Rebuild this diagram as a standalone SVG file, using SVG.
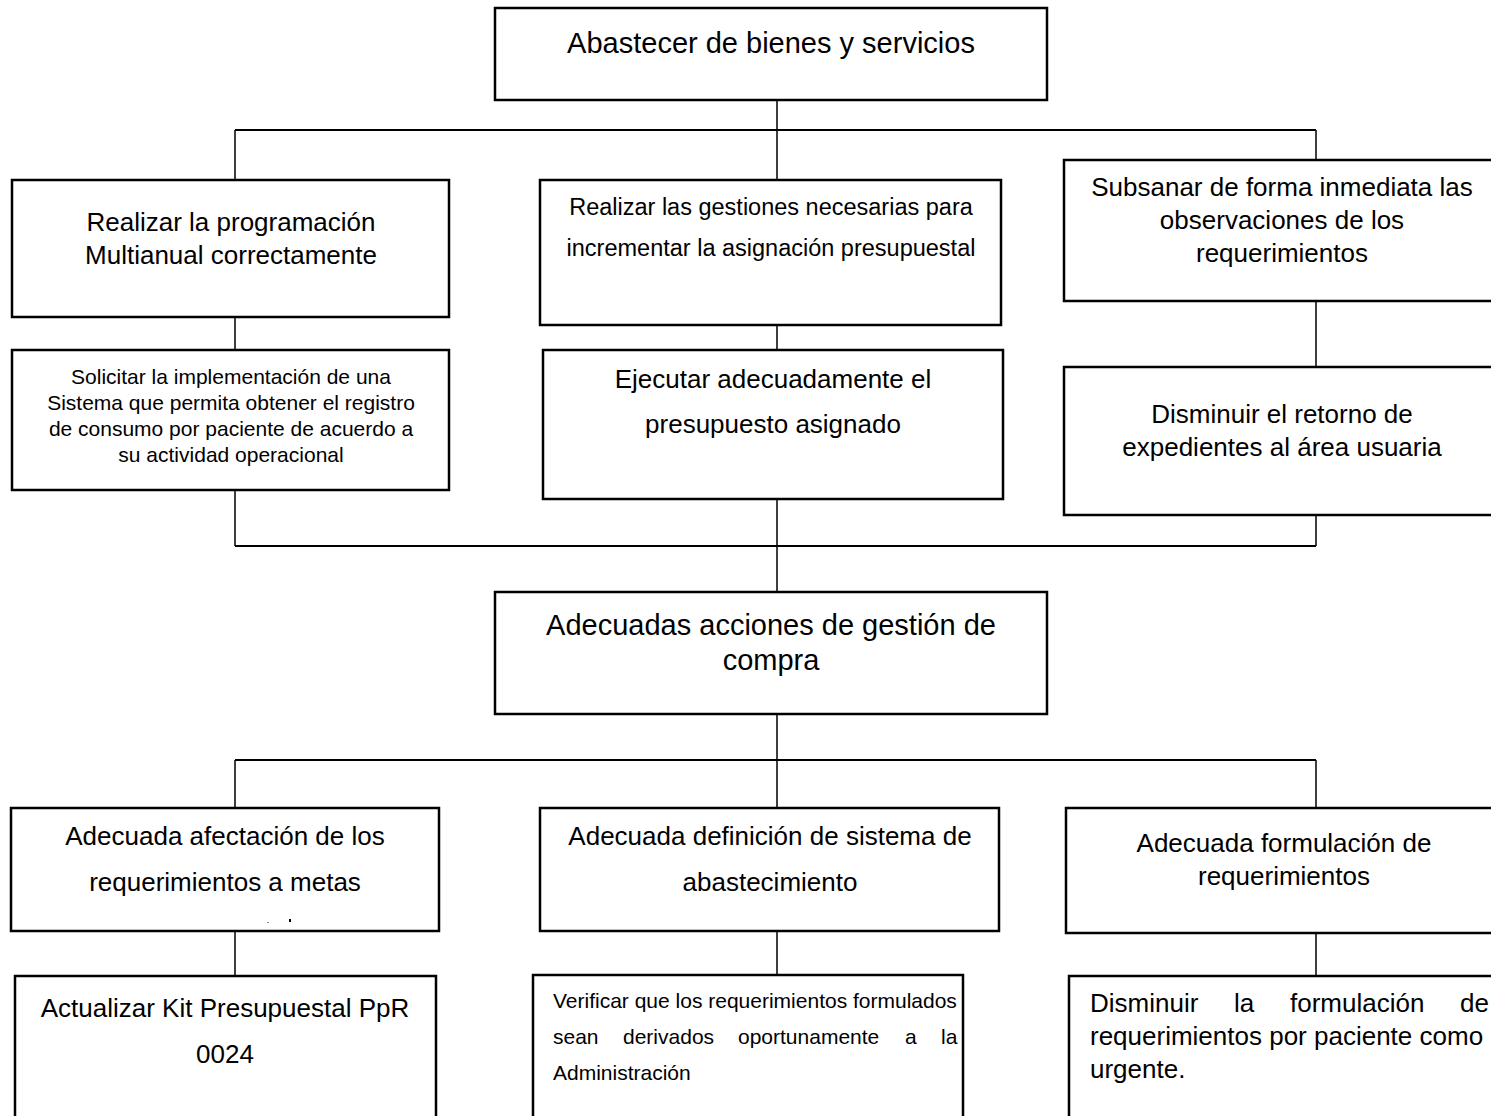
<svg xmlns="http://www.w3.org/2000/svg" width="1491" height="1116" viewBox="0 0 1491 1116">
<style>
.box{fill:#fff;stroke:#000;stroke-width:2.5}
.t{font-family:"Liberation Sans",Arial,sans-serif;fill:#000;text-anchor:middle}
.s{text-anchor:start}
.c{stroke:#000;fill:none}
.v{stroke-width:1.5}
.h{stroke-width:2.2}
</style>
<rect width="1491" height="1116" fill="#fff"/>
<g id="connectors">
<line class="c v" x1="777" y1="100" x2="777" y2="130"/>
<line class="c h" x1="235" y1="130" x2="1316" y2="130"/>
<line class="c v" x1="235" y1="130" x2="235" y2="180"/>
<line class="c v" x1="777" y1="130" x2="777" y2="180"/>
<line class="c v" x1="1316" y1="130" x2="1316" y2="160"/>
<line class="c v" x1="235" y1="317" x2="235" y2="350"/>
<line class="c v" x1="777" y1="325" x2="777" y2="350"/>
<line class="c v" x1="1316" y1="301" x2="1316" y2="367"/>
<line class="c v" x1="235" y1="490" x2="235" y2="546"/>
<line class="c v" x1="777" y1="499" x2="777" y2="592"/>
<line class="c v" x1="1316" y1="515" x2="1316" y2="546"/>
<line class="c h" x1="235" y1="546" x2="1316" y2="546"/>
<line class="c v" x1="777" y1="714" x2="777" y2="760"/>
<line class="c h" x1="235" y1="760" x2="1316" y2="760"/>
<line class="c v" x1="235" y1="760" x2="235" y2="808"/>
<line class="c v" x1="777" y1="760" x2="777" y2="808"/>
<line class="c v" x1="1316" y1="760" x2="1316" y2="808"/>
<line class="c v" x1="235" y1="931" x2="235" y2="976"/>
<line class="c v" x1="777" y1="931" x2="777" y2="975"/>
<line class="c v" x1="1316" y1="933" x2="1316" y2="976"/>
</g>
<g id="n-top">
<rect class="box" x="495" y="8" width="552" height="92"/>
<text class="t" x="771" y="53" font-size="29">Abastecer de bienes y servicios</text>
</g>
<g id="n-r1-left">
<rect class="box" x="12" y="180" width="437" height="137"/>
<text class="t" x="231" y="231" font-size="26">Realizar la programación</text>
<text class="t" x="231" y="264" font-size="26">Multianual correctamente</text>
</g>
<g id="n-r1-mid">
<rect class="box" x="540" y="180" width="461" height="145"/>
<text class="t" x="771" y="215" font-size="23.5">Realizar las gestiones necesarias para</text>
<text class="t" x="771" y="256" font-size="23.5">incrementar la asignación presupuestal</text>
</g>
<g id="n-r1-right">
<rect class="box" x="1064" y="160" width="440" height="141"/>
<text class="t" x="1282" y="196" font-size="26">Subsanar de forma inmediata las</text>
<text class="t" x="1282" y="229" font-size="26">observaciones de los</text>
<text class="t" x="1282" y="262" font-size="26">requerimientos</text>
</g>
<g id="n-r2-left">
<rect class="box" x="12" y="350" width="437" height="140"/>
<text class="t" x="231" y="384" font-size="21">Solicitar la implementación de una</text>
<text class="t" x="231" y="410" font-size="21">Sistema que permita obtener el registro</text>
<text class="t" x="231" y="436" font-size="21">de consumo por paciente de acuerdo a</text>
<text class="t" x="231" y="462" font-size="21">su actividad operacional</text>
</g>
<g id="n-r2-mid">
<rect class="box" x="543" y="350" width="460" height="149"/>
<text class="t" x="773" y="388" font-size="26">Ejecutar adecuadamente el</text>
<text class="t" x="773" y="433" font-size="26">presupuesto asignado</text>
</g>
<g id="n-r2-right">
<rect class="box" x="1064" y="367" width="440" height="148"/>
<text class="t" x="1282" y="423" font-size="26">Disminuir el retorno de</text>
<text class="t" x="1282" y="456" font-size="26">expedientes al área usuaria</text>
</g>
<g id="n-mid">
<rect class="box" x="495" y="592" width="552" height="122"/>
<text class="t" x="771" y="635" font-size="29">Adecuadas acciones de gestión de</text>
<text class="t" x="771" y="670" font-size="29">compra</text>
</g>
<g id="n-r3-left">
<rect class="box" x="11" y="808" width="428" height="123"/>
<text class="t" x="225" y="845" font-size="26">Adecuada afectación de los</text>
<text class="t" x="225" y="891" font-size="26">requerimientos a metas</text>
<rect x="267" y="922" width="2" height="1" fill="#888"/>
<rect x="289" y="919" width="2" height="3" fill="#000"/>
</g>
<g id="n-r3-mid">
<rect class="box" x="540" y="808" width="459" height="123"/>
<text class="t" x="770" y="845" font-size="26">Adecuada definición de sistema de</text>
<text class="t" x="770" y="891" font-size="26">abastecimiento</text>
</g>
<g id="n-r3-right">
<rect class="box" x="1066" y="808" width="440" height="125"/>
<text class="t" x="1284" y="852" font-size="26">Adecuada formulación de</text>
<text class="t" x="1284" y="885" font-size="26">requerimientos</text>
</g>
<g id="n-r4-left">
<rect class="box" x="15" y="976" width="421" height="160"/>
<text class="t" x="225" y="1017" font-size="26">Actualizar Kit Presupuestal PpR</text>
<text class="t" x="225" y="1063" font-size="26">0024</text>
</g>
<g id="n-r4-mid">
<rect class="box" x="533" y="975" width="430" height="160"/>
<text class="t s" x="553" y="1008" font-size="21">Verificar que los requerimientos formulados</text>
<text class="t s" y="1044" font-size="21"><tspan x="553">sean</tspan><tspan x="623">derivados</tspan><tspan x="738">oportunamente</tspan><tspan x="905">a</tspan><tspan x="941">la</tspan></text>
<text class="t s" x="553" y="1080" font-size="21">Administración</text>
</g>
<g id="n-r4-right">
<rect class="box" x="1069" y="976" width="440" height="160"/>
<text class="t s" y="1012" font-size="26"><tspan x="1090">Disminuir</tspan><tspan x="1234">la</tspan><tspan x="1290">formulación</tspan><tspan x="1460">de</tspan></text>
<text class="t s" x="1090" y="1045" font-size="26">requerimientos por paciente como</text>
<text class="t s" x="1090" y="1078" font-size="26">urgente.</text>
</g>
</svg>
